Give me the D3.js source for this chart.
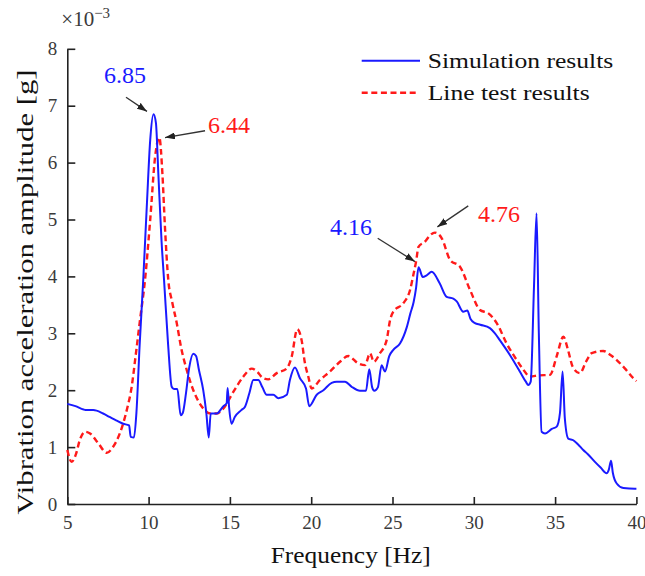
<!DOCTYPE html>
<html><head><meta charset="utf-8">
<script src="https://cdn.jsdelivr.net/npm/d3@7"></script>
<style>body{margin:0;background:#fff} svg text{font-family:"Liberation Serif","Times New Roman",serif;}</style>
</head><body>
<svg id="chart" width="645" height="576"></svg>
<script>
const simFreq = [5.0,5.5,6.0,6.2,6.6,7.2,7.6,8.0,8.44,8.8,8.9,9.1,9.25,9.45,9.67,9.9,10.1,10.3,10.45,10.6,10.8,10.95,11.2,11.42,11.56,11.77,11.97,12.1,12.3,12.5,12.75,12.92,13.1,13.36,13.55,13.7,13.82,14.19,14.6,14.8,14.86,14.95,15.1,15.3,15.7,15.93,16.2,16.44,16.75,17.0,17.26,17.67,17.98,18.5,18.69,19.0,19.31,19.68,19.88,20.34,20.75,21.26,21.57,22.08,22.49,23.0,23.37,23.57,23.75,23.88,24.1,24.33,24.54,24.8,25.05,25.46,25.87,26.1,26.3,26.45,26.6,26.86,27.1,27.41,27.9,28.33,28.74,28.95,29.35,29.6,29.8,30.07,30.4,30.99,31.3,31.6,32.22,32.83,33.2,33.35,33.5,33.7,33.86,34.0,34.17,34.38,34.8,35.1,35.3,35.46,35.6,35.81,36.12,36.4,36.73,37.0,37.45,37.8,38.17,38.3,38.44,38.55,38.79,39.2,39.91,40.0];
const simAmp = [1.76,1.72,1.66,1.65,1.65,1.59,1.53,1.47,1.41,1.38,1.18,1.17,1.6,2.8,3.94,5.3,6.4,6.85,6.7,5.8,4.6,3.94,2.8,2.06,2.02,2.02,1.56,1.6,1.95,2.4,2.64,2.6,2.35,2.0,1.6,1.17,1.59,1.59,1.72,1.77,2.04,1.7,1.41,1.53,1.65,1.71,1.95,2.18,2.18,2.05,1.92,1.92,1.86,1.92,2.18,2.40,2.21,2.03,1.72,1.92,2.0,2.13,2.15,2.15,2.06,1.99,1.99,2.37,2.05,1.99,2.05,2.44,2.33,2.6,2.71,2.82,3.1,3.35,3.55,3.8,4.16,3.99,4.02,4.08,3.88,3.64,3.61,3.56,3.38,3.40,3.25,3.18,3.15,3.09,3.0,2.88,2.62,2.33,2.15,2.09,2.15,3.8,5.11,3.0,1.27,1.24,1.32,1.36,1.6,2.33,1.5,1.15,1.12,1.05,0.95,0.88,0.74,0.64,0.54,0.6,0.76,0.55,0.36,0.28,0.27,0.27];
const testFreq = [5.0,5.27,5.5,5.8,6.09,6.4,6.9,7.42,7.83,8.1,8.44,8.7,8.96,9.2,9.47,9.78,10.1,10.4,10.66,10.85,11.0,11.21,11.45,11.73,12.0,12.34,12.75,13.36,13.78,14.19,14.6,15.21,15.83,16.34,16.7,17.0,17.36,17.88,18.49,18.8,19.14,19.41,19.6,19.82,20.03,20.54,21.16,21.77,22.28,22.9,23.31,23.62,23.85,24.23,24.64,24.85,25.05,25.67,26.08,26.3,26.45,26.6,27.0,27.3,27.61,28.03,28.54,29.15,29.77,30.38,30.9,31.41,32.02,32.64,33.0,33.46,34.0,34.69,35.1,35.51,35.8,36.1,36.53,36.9,37.25,37.96,38.4,38.79,39.3,39.81,40.0];
const testAmp = [0.95,0.74,0.85,1.15,1.27,1.24,1.07,0.90,1.01,1.15,1.42,1.7,2.06,2.6,3.23,3.94,5.0,6.1,6.44,5.8,4.9,3.94,3.55,3.18,2.75,2.36,2.0,1.68,1.59,1.59,1.68,1.97,2.24,2.38,2.32,2.22,2.19,2.30,2.38,2.59,3.07,2.88,2.5,2.24,2.03,2.18,2.33,2.50,2.60,2.47,2.44,2.65,2.5,2.65,2.88,3.23,3.38,3.53,3.76,4.05,4.26,4.52,4.61,4.72,4.77,4.67,4.29,4.17,3.76,3.41,3.35,3.18,2.82,2.53,2.38,2.24,2.26,2.27,2.6,2.94,2.7,2.4,2.30,2.5,2.65,2.69,2.62,2.53,2.38,2.21,2.16];

const xTickValues = [5,10,15,20,25,30,35,40];
const yTickValues = [0,1,2,3,4,5,6,7,8];
const seriesNames = ["Simulation results","Line test results"];
const xAxisTitle = "Frequency [Hz]";
const yAxisTitle = "Vibration acceleration amplitude [g]";

// peak annotations (data coordinates)
const annText = ["6.85","6.44","4.16","4.76"];
const annSeries = [0,1,0,1];
const annTextX = [7.26,13.65,21.15,30.26];
const annTextY = [7.40,6.52,4.73,4.96];
const annFromX = [8.61,13.47,24.09,29.66];
const annFromY = [7.15,6.56,4.67,5.24];
const annToX = [9.90,11.01,26.38,27.76];
const annToY = [6.90,6.44,4.26,4.87];

const colors = ["#1a1aff","#ff1a1a"];
const W = 645, H = 576;
const m = {left:67.3, right:8.6, top:48.8, bottom:72};
const svg = d3.select("#chart");
const x = d3.scaleLinear().domain([5,40]).range([m.left, W-m.right]);
const y = d3.scaleLinear().domain([0,8]).range([H-m.bottom, m.top]);
const serif = "Liberation Serif, Times New Roman, serif";

const defs = svg.append("defs");
defs.append("marker").attr("id","arr").attr("viewBox","0 0 10 7")
  .attr("refX",10).attr("refY",3.5).attr("markerWidth",10).attr("markerHeight",7)
  .attr("markerUnits","userSpaceOnUse").attr("orient","auto")
  .append("path").attr("d","M0,0L10,3.5L0,7Z").attr("fill","#222");

// axes
const xAxis = d3.axisBottom(x).tickValues(xTickValues).tickSizeInner(-7).tickSizeOuter(0).tickPadding(12);
const yAxis = d3.axisLeft(y).tickValues(yTickValues).tickSizeInner(-8).tickSizeOuter(0).tickPadding(10);
const gx = svg.append("g").attr("transform",`translate(0,${H-m.bottom})`).call(xAxis);
const gy = svg.append("g").attr("transform",`translate(${m.left},0)`).call(yAxis);
[gx,gy].forEach(g=>{
  g.attr("font-family",serif);
  g.selectAll(".domain").attr("stroke","#222").attr("stroke-width",1.6);
  g.selectAll(".tick line").attr("stroke","#222").attr("stroke-width",1.6);
  g.selectAll(".tick text").attr("font-family",serif).attr("font-size",19).attr("fill","#3a3a3a");
});

// lines
const simData = simFreq.map((f,i)=>({f, v:simAmp[i]}));
const testData = testFreq.map((f,i)=>({f, v:testAmp[i]}));
const line = d3.line().x(d=>x(d.f)).y(d=>y(d.v)).curve(d3.curveMonotoneX);
svg.append("path").datum(testData).attr("d",line).attr("fill","none")
  .attr("stroke",colors[1]).attr("stroke-width",2.4).attr("stroke-dasharray","6,3.6");
svg.append("path").datum(simData).attr("d",line).attr("fill","none")
  .attr("stroke",colors[0]).attr("stroke-width",2);

// exponent
const ex = svg.append("text").attr("x",x(5)-6).attr("y",26).attr("font-family",serif)
  .attr("font-size",21).attr("fill","#3a3a3a");
ex.append("tspan").text("×10");
ex.append("tspan").attr("font-size",15).attr("dy",-8).text("−3");

// annotations
annText.forEach((t,i)=>{
  svg.append("line").attr("x1",x(annFromX[i])).attr("y1",y(annFromY[i]))
    .attr("x2",x(annToX[i])).attr("y2",y(annToY[i]))
    .attr("stroke","#333").attr("stroke-width",1.3).attr("marker-end","url(#arr)");
  svg.append("text").attr("x",x(annTextX[i])).attr("y",y(annTextY[i]))
    .attr("font-family",serif).attr("font-size",24).attr("fill",colors[annSeries[i]]).text(t);
});

// legend
const lg = svg.append("g");
seriesNames.forEach((n,i)=>{
  const yy = 60.7 + i*32;
  lg.append("line").attr("x1",361.7).attr("x2",i?417:420).attr("y1",yy).attr("y2",yy)
    .attr("stroke",colors[i]).attr("stroke-width",i?2.4:2)
    .attr("stroke-dasharray",i?"6,3.6":null);
  lg.append("text").attr("x",427.7).attr("y",yy+7.5).attr("font-family",serif)
    .attr("font-size",22).attr("fill","#111")
    .attr("textLength",i?162:185.6).attr("lengthAdjust","spacingAndGlyphs").text(n);
});

// axis titles
svg.append("text").attr("x",350.7).attr("y",563).attr("text-anchor","middle")
  .attr("font-family",serif).attr("font-size",23).attr("fill","#111")
  .attr("textLength",160).attr("lengthAdjust","spacingAndGlyphs").text(xAxisTitle);
svg.append("text").attr("transform","translate(33,292) rotate(-90)").attr("text-anchor","middle")
  .attr("font-family",serif).attr("font-size",23).attr("fill","#111")
  .attr("textLength",445).attr("lengthAdjust","spacingAndGlyphs").text(yAxisTitle);
</script>
</body></html>
